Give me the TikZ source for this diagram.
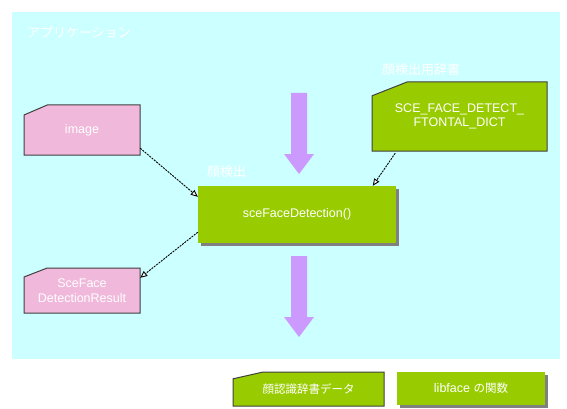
\documentclass[tikz,border=0pt]{standalone}
\usepackage{fontspec}
\setmainfont{Liberation Sans}
\newfontfamily\jpfont{Noto Sans CJK JP}
\usetikzlibrary{arrows.meta,shadows}

\definecolor{appbg}{HTML}{CCFFFF}
\definecolor{funcgreen}{HTML}{99CC00}
\definecolor{datapink}{HTML}{F0B8DA}
\definecolor{flowpurple}{HTML}{CC99FF}
\definecolor{edgegray}{HTML}{404040}

\tikzset{
  lbl/.style={text=white, font=\fontsize{12.5}{14.5}\selectfont, align=center, inner sep=0pt},
  jplbl/.style={text=white, font=\jpfont\fontsize{13}{15}\selectfont, anchor=west, inner sep=0pt},
  funcbox/.style={lbl, fill=funcgreen, drop shadow={shadow xshift=3pt, shadow yshift=-3pt, fill=gray, opacity=1}},
  dataflow/.style={dash pattern=on 2pt off 1pt, line width=0.9pt, -{Triangle[open, fill=white, length=7pt, width=6pt]}},
}

% data box with a cut corner: name, fill, x1, y1, x2, y2, text
\newcommand{\docnode}[7]{%
  \filldraw[fill=#2, draw=edgegray, line width=1pt]
    (#3,{#4+0.2*(#6-#4)}) -- ({#3+0.2*(#5-#3)},#4) -- (#5,#4) -- (#5,#6) -- (#3,#6) -- cycle;
  \node[lbl, minimum width={(#5-#3)*1pt}, minimum height={(#6-#4)*1pt}] (#1) at ({(#3+#5)/2},{(#4+#6)/2}) {#7};
}

\begin{document}
\begin{tikzpicture}[x=1pt, y=-1pt]
    \useasboundingbox (0,0) rectangle (567,409);
    \fill[white] (0,0) rectangle (567,409);

    % Application area
    \fill[appbg] (12,12) rectangle (560,359);
    \node[jplbl] (applbl) at (27,32) {アプリケーション};

    % Input / output data
    \docnode{img}{datapink}{24}{105}{140}{155}{image}
    \docnode{res}{datapink}{24}{268}{140}{313}{SceFace\\DetectionResult}
    \docnode{dict}{funcgreen}{372}{82}{547}{151}{SCE\_FACE\_DETECT\_\\FTONTAL\_DICT}
    \node[jplbl] (dictlbl) at (382,70) {顔検出用辞書};

    % Function
    \node[funcbox, minimum width=198pt, minimum height=57pt] (fd) at (297,214.5) {sceFaceDetection()};
    \node[jplbl] (fdlbl) at (207,172) {顔検出};

    % Flow arrows
    \foreach \y in {93,256} {
        \fill[flowpurple] (291,\y) -- (307,\y) -- (307,\y+61) -- (314,\y+61) -- (299,\y+81)
            -- (284,\y+61) -- (291,\y+61) -- cycle;
    }

    % Data connectors
    \draw[dataflow] ([yshift=7pt]img.south east) -- ([yshift=-11pt]fd.north west);
    \draw[dataflow] ([yshift=11pt]fd.south west) -- ([yshift=-10pt]res.north east);
    \draw[dataflow] ([xshift=-152pt, yshift=-2pt]dict.south east) -- ([xshift=175pt]fd.north west);

    % Legend
    \docnode{legdata}{funcgreen}{233}{372}{384}{406}{{\jpfont\fontsize{11.5}{13}\selectfont 顔認識辞書データ}}
    \node[funcbox, minimum width=148pt, minimum height=33pt] (legfunc) at (471,388.5)
        {libface {\jpfont\fontsize{11.5}{13}\selectfont の関数}};
\end{tikzpicture}
\end{document}
